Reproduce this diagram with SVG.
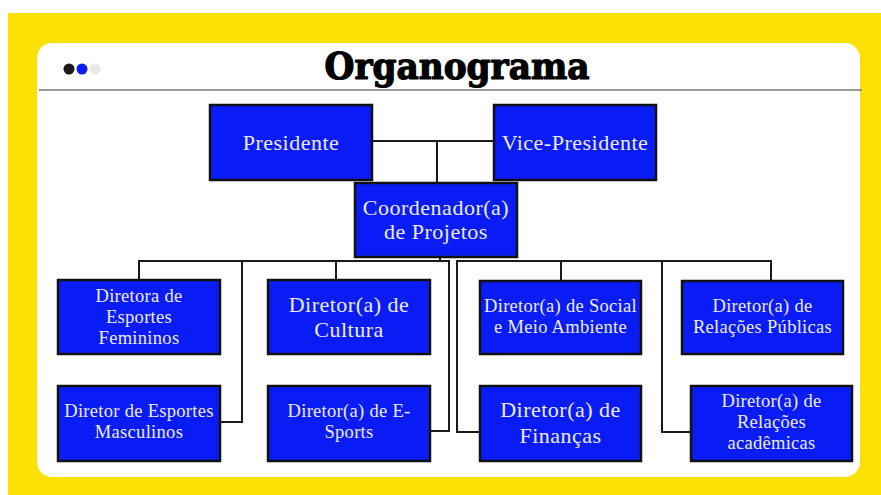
<svg xmlns="http://www.w3.org/2000/svg" width="881" height="495" viewBox="0 0 881 495">
<style>
.box{fill:#0a1cf6;stroke:#111;stroke-width:2.5}
.t{font-family:"Liberation Serif","Times New Roman",serif;fill:#ecebff;text-anchor:middle}
.lg{font-size:22px;letter-spacing:0.5px}
.sm{font-size:18.5px;letter-spacing:0.3px}
.c{fill:none;stroke:#1a1a1a;stroke-width:2}
</style>
<rect x="0" y="0" width="881" height="495" fill="#ffffff"/>
<rect x="8" y="13" width="873" height="482" fill="#fee104"/>
<rect x="37" y="43" width="823" height="434" rx="15" ry="15" fill="#ffffff"/>
<circle cx="95" cy="69" r="5.5" fill="#e9e9e9"/>
<circle cx="82" cy="69" r="5.5" fill="#0a1cf6"/>
<circle cx="69" cy="69" r="5.5" fill="#1a1a1a"/>
<line x1="39" y1="90" x2="862" y2="90" stroke="#7a7a7a" stroke-width="1.5"/>
<text x="457" y="79" font-family="'DejaVu Serif Condensed','DejaVu Serif',serif" font-weight="900" font-stretch="condensed" font-size="37" textLength="265" lengthAdjust="spacingAndGlyphs" text-anchor="middle" fill="#000" stroke="#000" stroke-width="1.2" stroke-linejoin="round">Organograma</text>
<g id="connectors">
<path class="c" d="M372,141 H494 M437,141 V183"/>
<path class="c" d="M440,257 V261"/>
<path class="c" d="M139,280 V261 H449 V431 H430"/>
<path class="c" d="M242,261 V422 H220"/>
<path class="c" d="M336,261 V280"/>
<path class="c" d="M480,432 H457 V261 H771 V281"/>
<path class="c" d="M561,261 V281"/>
<path class="c" d="M662,261 V432 H691"/>
</g>
<g id="presidente"><rect class="box" x="210" y="105" width="162" height="75"/><text class="t lg" x="291" y="150">Presidente</text></g>
<g id="vice-presidente"><rect class="box" x="494" y="105" width="162" height="75"/><text class="t lg" x="575" y="150">Vice-Presidente</text></g>
<g id="coordenador"><rect class="box" x="355" y="183" width="162" height="74"/><text class="t lg" x="436" y="215">Coordenador(a)</text><text class="t lg" x="436" y="239">de Projetos</text></g>
<g id="esportes-femininos"><rect class="box" x="58" y="280" width="162" height="74"/><text class="t sm" x="139" y="302">Diretora de</text><text class="t sm" x="139" y="323">Esportes</text><text class="t sm" x="139" y="344">Femininos</text></g>
<g id="esportes-masculinos"><rect class="box" x="58" y="386" width="162" height="75"/><text class="t sm" x="139" y="417">Diretor de Esportes</text><text class="t sm" x="139" y="438">Masculinos</text></g>
<g id="cultura"><rect class="box" x="268" y="280" width="162" height="74"/><text class="t lg" x="349" y="312">Diretor(a) de</text><text class="t lg" x="349" y="337">Cultura</text></g>
<g id="esports"><rect class="box" x="268" y="386" width="162" height="75"/><text class="t sm" x="349" y="417">Diretor(a) de E-</text><text class="t sm" x="349" y="438">Sports</text></g>
<g id="social"><rect class="box" x="480" y="281" width="161" height="73"/><text class="t sm" x="560.5" y="312">Diretor(a) de Social</text><text class="t sm" x="560.5" y="333">e Meio Ambiente</text></g>
<g id="financas"><rect class="box" x="480" y="386" width="161" height="75"/><text class="t lg" x="560.5" y="417">Diretor(a) de</text><text class="t lg" x="560.5" y="443">Finanças</text></g>
<g id="relacoes-publicas"><rect class="box" x="682" y="281" width="161" height="73"/><text class="t sm" x="762.5" y="312">Diretor(a) de</text><text class="t sm" x="762.5" y="333">Relações Públicas</text></g>
<g id="relacoes-academicas"><rect class="box" x="691" y="386" width="161" height="75"/><text class="t sm" x="771.5" y="407">Diretor(a) de</text><text class="t sm" x="771.5" y="428">Relações</text><text class="t sm" x="771.5" y="449">acadêmicas</text></g>
</svg>
